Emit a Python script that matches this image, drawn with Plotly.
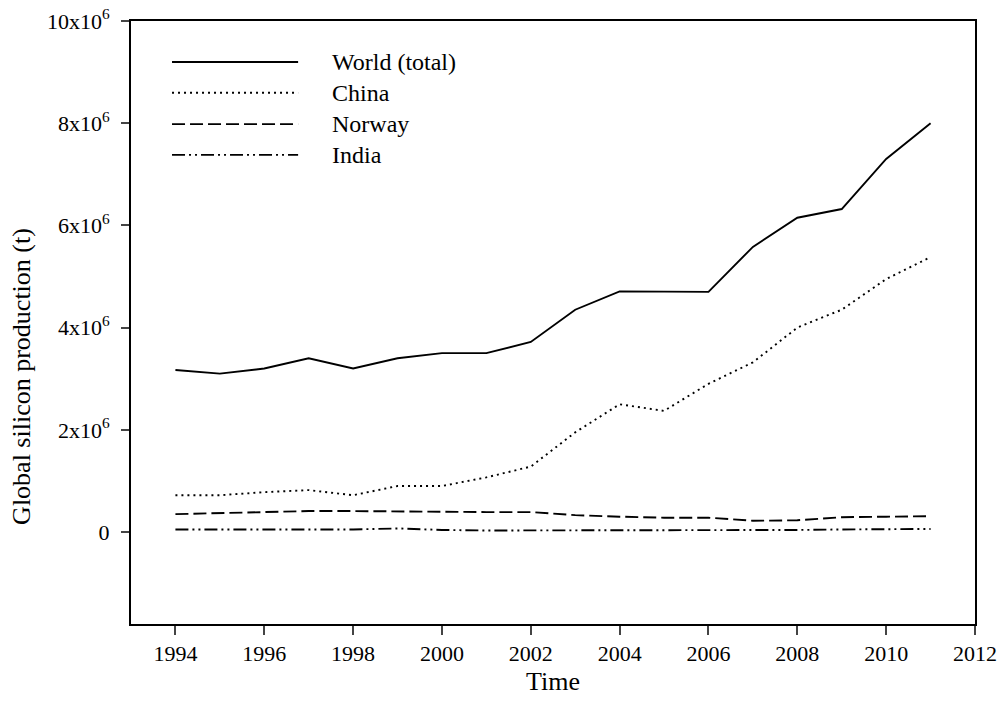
import plotly.graph_objects as go

# Annual silicon production, tonnes
years = list(range(1994, 2012))
world = [3.17e6, 3.10e6, 3.20e6, 3.40e6, 3.20e6, 3.40e6, 3.50e6, 3.50e6, 3.72e6,
         4.35e6, 4.71e6, 4.70e6, 4.70e6, 5.58e6, 6.15e6, 6.32e6, 7.30e6, 8.00e6]
china = [0.72e6, 0.72e6, 0.78e6, 0.82e6, 0.72e6, 0.90e6, 0.90e6, 1.07e6, 1.28e6,
         1.95e6, 2.50e6, 2.37e6, 2.90e6, 3.32e6, 4.00e6, 4.35e6, 4.95e6, 5.38e6]
norway = [0.35e6, 0.37e6, 0.40e6, 0.41e6, 0.41e6, 0.40e6, 0.39e6, 0.39e6, 0.39e6,
          0.33e6, 0.30e6, 0.28e6, 0.28e6, 0.22e6, 0.23e6, 0.29e6, 0.30e6, 0.31e6]
india = [0.05e6, 0.05e6, 0.05e6, 0.05e6, 0.05e6, 0.07e6, 0.04e6, 0.03e6, 0.03e6,
         0.03e6, 0.03e6, 0.03e6, 0.03e6, 0.04e6, 0.04e6, 0.05e6, 0.06e6, 0.06e6]

series_names = ["World (total)", "China", "Norway", "India"]
x_ticks = list(range(1994, 2013, 2))
y_ticks = [0, 2e6, 4e6, 6e6, 8e6, 10e6]
y_tick_text = ["0", "2x10<sup>6</sup>", "4x10<sup>6</sup>", "6x10<sup>6</sup>",
               "8x10<sup>6</sup>", "10x10<sup>6</sup>"]

dashes = ["solid", "2px,4px", "13px,5px", "13px,4px,2px,4px,2px,4px"]
FONT = "Liberation Serif"

fig = go.Figure()
for name, vals, dash in zip(series_names, [world, china, norway, india], dashes):
    fig.add_trace(go.Scatter(
        x=years, y=vals, mode="lines", name=name,
        line=dict(color="black", width=1.9, dash=dash),
        showlegend=False,
    ))

# Key drawn inside the plot area (upper left)
key_y = [0.932, 0.881, 0.829, 0.778]
for name, dash, ky in zip(series_names, dashes, key_y):
    fig.add_shape(type="line", xref="paper", yref="paper",
                  x0=0.0486, x1=0.198, y0=ky, y1=ky,
                  line=dict(color="black", width=1.9, dash=dash))
    fig.add_annotation(xref="paper", yref="paper", x=0.236, y=ky,
                       text=name, showarrow=False, xanchor="left", yanchor="middle",
                       font=dict(family=FONT, size=24, color="black"))

# Vertical axis title, set slightly below the plot-area centre
fig.add_annotation(xref="paper", yref="paper", x=-0.129, y=0.41,
                   text="Global silicon production (t)", textangle=-90,
                   showarrow=False, xanchor="center", yanchor="middle",
                   font=dict(family=FONT, size=26, color="black"))

fig.update_layout(
    width=997, height=719,
    margin=dict(l=131, r=22, t=21, b=95),
    paper_bgcolor="white", plot_bgcolor="white",
    font=dict(family=FONT, color="black", size=22),
    xaxis=dict(
        range=[1993, 2012], tickvals=x_ticks, ticks="outside", ticklen=9, tickwidth=2,
        showline=True, linewidth=2, linecolor="black", mirror=True, showgrid=False,
        zeroline=False, tickfont=dict(size=22), automargin=False,
        title=dict(text="Time", font=dict(size=26), standoff=6),
    ),
    yaxis=dict(
        range=[-1.8e6, 10e6], tickvals=y_ticks, ticktext=y_tick_text,
        ticks="outside", ticklen=8, tickwidth=2, ticklabelstandoff=7,
        showline=True, linewidth=2, linecolor="black", mirror=True, showgrid=False,
        zeroline=False, tickfont=dict(size=22), automargin=False,
    ),
)

fig.write_html("out.html")
